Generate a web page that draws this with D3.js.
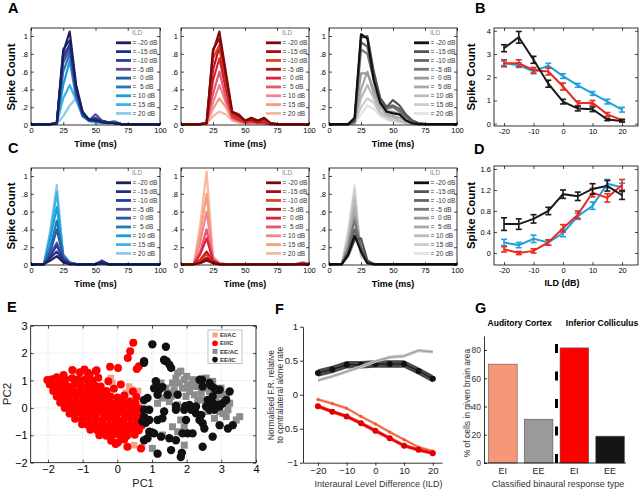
<!DOCTYPE html>
<html><head><meta charset="utf-8">
<script src="https://cdn.jsdelivr.net/npm/d3@7"></script>
<style>body{margin:0;background:#fff;}svg{display:block;}</style>
</head><body><svg id="c" width="640" height="491"></svg>
<script>
// ---------------- DATA ----------------
const timeBins = [0,5,10,15,20,25,30,35,40,45,50,55,60,65,70,75,80,85,90,95,100];
const ildLabels = ["= -20 dB","= -15 dB","= -10 dB","= -5 dB","=  0 dB","=  5 dB","= 10 dB","= 15 dB","= 20 dB"];
const blues = ["#1b1f5c","#1f2f86","#233f9e","#5b4a9c","#1f5f9e","#2278b8","#1a9fd8","#3db4e4","#8ccbea"];
const reds  = ["#7d0a0a","#a30d0d","#e0401f","#b5121b","#e0203a","#e05a6a","#f2839b","#f3a07a","#f7b79c"];
const grays = ["#111111","#555555","#666666","#777777","#999999","#aaaaaa","#bbbbbb","#cccccc","#e3e3e3"];

const psthA1 = [
 [.01,.01,.01,.01,.02,.82,1.05,.45,.15,.06,.05,.03,.02,.02,.01,.01,.01,.01,.01,.01,.01],
 [.01,.01,.01,.01,.02,.85,.95,.42,.14,.06,.06,.04,.03,.02,.01,.01,.01,.01,.01,.01,.01],
 [.01,.01,.01,.01,.02,.78,.90,.40,.12,.06,.08,.04,.03,.02,.01,.01,.01,.01,.01,.01,.01],
 [.01,.01,.01,.01,.02,.70,.85,.35,.12,.05,.12,.05,.03,.02,.01,.01,.01,.01,.01,.01,.01],
 [.01,.01,.01,.01,.02,.75,.88,.38,.12,.06,.07,.04,.03,.03,.01,.01,.01,.01,.01,.01,.01],
 [.01,.01,.01,.01,.02,.60,.80,.35,.10,.05,.05,.04,.03,.02,.01,.01,.01,.01,.01,.01,.01],
 [.01,.01,.01,.01,.02,.45,.72,.30,.10,.05,.04,.03,.03,.04,.01,.01,.01,.01,.01,.01,.01],
 [.01,.01,.01,.01,.02,.30,.45,.28,.10,.04,.03,.03,.03,.04,.01,.01,.01,.01,.01,.01,.01],
 [.01,.01,.01,.01,.01,.10,.22,.30,.15,.05,.03,.02,.02,.03,.01,.01,.01,.01,.01,.01,.01]
];
const psthA2 = [
 [.01,.01,.01,.01,.02,.82,1.05,.60,.15,.12,.05,.08,.05,.08,.02,.01,.01,.01,.01,.01,.01],
 [.01,.01,.01,.01,.02,.85,.97,.55,.14,.10,.05,.06,.04,.07,.02,.01,.01,.01,.01,.01,.01],
 [.01,.01,.01,.01,.02,.75,.90,.50,.12,.08,.04,.05,.04,.05,.02,.01,.01,.01,.01,.01,.01],
 [.01,.01,.01,.01,.02,.62,.88,.45,.12,.08,.04,.05,.03,.04,.02,.01,.01,.01,.01,.01,.01],
 [.01,.01,.01,.01,.02,.50,.75,.40,.10,.06,.03,.04,.03,.03,.01,.01,.01,.01,.01,.01,.01],
 [.01,.01,.01,.01,.02,.35,.60,.30,.08,.05,.03,.03,.03,.02,.01,.01,.01,.01,.01,.01,.01],
 [.01,.01,.01,.01,.02,.25,.45,.25,.07,.04,.03,.03,.02,.02,.01,.01,.01,.01,.01,.01,.01],
 [.01,.01,.01,.01,.02,.18,.30,.20,.06,.03,.02,.02,.02,.02,.01,.01,.01,.01,.01,.01,.01],
 [.01,.01,.01,.01,.01,.10,.15,.12,.05,.03,.02,.02,.02,.02,.01,.01,.01,.01,.01,.01,.01]
];
const psthA3 = [
 [.01,.01,.01,.01,.08,1.02,.97,.50,.25,.15,.13,.12,.05,.02,.01,.01,.01,.01,.01,.01,.01],
 [.01,.01,.01,.01,.05,.98,1.00,.60,.30,.20,.28,.22,.12,.05,.02,.01,.01,.01,.01,.01,.01],
 [.01,.01,.01,.01,.04,.93,.88,.55,.30,.20,.22,.18,.10,.05,.02,.01,.01,.01,.01,.01,.01],
 [.01,.01,.01,.01,.04,.85,.80,.50,.30,.18,.20,.15,.08,.04,.02,.01,.01,.01,.01,.01,.01],
 [.01,.01,.01,.01,.03,.58,.58,.40,.25,.15,.15,.12,.06,.03,.01,.01,.01,.01,.01,.01,.01],
 [.01,.01,.01,.01,.03,.40,.60,.35,.20,.12,.10,.08,.05,.02,.01,.01,.01,.01,.01,.01,.01],
 [.01,.01,.01,.01,.02,.30,.45,.30,.15,.10,.08,.05,.03,.02,.01,.01,.01,.01,.01,.01,.01],
 [.01,.01,.01,.01,.02,.20,.30,.25,.12,.08,.05,.04,.02,.01,.01,.01,.01,.01,.01,.01,.01],
 [.01,.01,.01,.01,.02,.12,.22,.18,.10,.06,.04,.03,.02,.01,.01,.01,.01,.01,.01,.01,.01]
];
const psthC1 = [
 [.01,.01,.01,.05,.10,.03,.01,.01,.01,.01,.01,.02,.01,.01,.01,.01,.01,.01,.01,.01,.01],
 [.01,.01,.01,.08,.15,.05,.01,.01,.01,.01,.01,.03,.01,.01,.01,.01,.01,.01,.01,.01,.01],
 [.01,.01,.01,.10,.22,.06,.02,.01,.01,.01,.01,.04,.01,.01,.01,.01,.01,.01,.01,.01,.01],
 [.01,.01,.01,.12,.25,.08,.02,.01,.01,.01,.01,.03,.01,.01,.01,.01,.01,.01,.01,.01,.01],
 [.01,.01,.01,.15,.40,.08,.02,.01,.01,.01,.01,.05,.01,.01,.01,.01,.01,.01,.01,.01,.01],
 [.01,.01,.01,.20,.50,.10,.02,.01,.01,.01,.01,.03,.01,.01,.01,.01,.01,.01,.01,.01,.01],
 [.01,.01,.01,.30,.65,.12,.03,.01,.01,.01,.01,.02,.01,.01,.01,.01,.01,.01,.01,.01,.01],
 [.01,.01,.01,.35,.82,.10,.03,.01,.01,.01,.01,.02,.01,.01,.01,.01,.01,.01,.01,.01,.01],
 [.01,.01,.01,.40,.90,.08,.02,.01,.01,.01,.01,.01,.01,.01,.01,.01,.01,.01,.01,.01,.01]
];
const psthC2 = [
 [.01,.01,.01,.02,.05,.02,.01,.01,.01,.01,.01,.01,.01,.01,.01,.01,.01,.01,.01,.01,.01],
 [.01,.01,.01,.03,.08,.03,.01,.01,.01,.01,.01,.01,.01,.01,.01,.01,.01,.01,.01,.01,.01],
 [.01,.01,.01,.05,.12,.03,.01,.01,.01,.01,.01,.01,.01,.01,.01,.01,.01,.01,.01,.01,.01],
 [.01,.01,.01,.06,.15,.04,.01,.01,.01,.01,.01,.01,.01,.01,.01,.01,.01,.01,.01,.02,.01],
 [.01,.01,.01,.12,.30,.05,.01,.01,.01,.01,.01,.01,.01,.01,.01,.01,.01,.01,.01,.01,.01],
 [.01,.01,.01,.15,.40,.06,.01,.01,.01,.01,.01,.01,.01,.01,.01,.01,.01,.01,.01,.02,.01],
 [.01,.01,.01,.25,.60,.08,.02,.01,.01,.01,.01,.01,.01,.01,.01,.01,.01,.01,.01,.03,.01],
 [.01,.01,.01,.35,.80,.08,.02,.01,.01,.01,.01,.01,.01,.01,.01,.01,.01,.01,.01,.03,.01],
 [.01,.01,.01,.45,1.05,.10,.02,.01,.01,.01,.01,.01,.01,.01,.01,.01,.01,.01,.01,.02,.01]
];
const psthC3 = [
 [.01,.01,.01,.12,.33,.15,.02,.01,.01,.01,.01,.01,.01,.01,.01,.01,.01,.01,.01,.01,.01],
 [.01,.01,.01,.10,.28,.30,.05,.01,.01,.01,.01,.01,.01,.01,.01,.01,.01,.01,.01,.01,.01],
 [.01,.01,.01,.15,.40,.20,.04,.01,.01,.01,.01,.01,.01,.01,.01,.01,.01,.01,.01,.01,.01],
 [.01,.01,.01,.18,.50,.20,.04,.01,.01,.01,.01,.01,.01,.01,.01,.01,.01,.01,.01,.01,.01],
 [.01,.01,.01,.20,.55,.15,.03,.01,.01,.01,.01,.01,.01,.01,.01,.01,.01,.01,.01,.01,.01],
 [.01,.01,.01,.25,.65,.15,.03,.01,.01,.01,.01,.01,.01,.01,.01,.01,.01,.01,.01,.01,.01],
 [.01,.01,.01,.30,.75,.12,.03,.01,.01,.01,.01,.01,.01,.01,.01,.01,.01,.01,.01,.01,.01],
 [.01,.01,.01,.35,.85,.10,.02,.01,.01,.01,.01,.01,.01,.01,.01,.01,.01,.01,.01,.01,.01],
 [.01,.01,.01,.40,.90,.10,.02,.01,.01,.01,.01,.01,.01,.01,.01,.01,.01,.01,.01,.01,.01]
];

const ildX = [-20,-15,-10,-5,0,5,10,15,20];
const bBlack = [3.25,3.72,2.75,1.72,0.95,0.65,0.62,0.18,0.12];
const bBlackErr = [0.15,0.25,0.15,0.15,0.1,0.1,0.1,0.05,0.05];
const bRed = [2.6,2.6,2.3,2.25,1.6,0.88,0.9,0.4,0.15];
const bRedErr = [0.15,0.15,0.12,0.15,0.15,0.1,0.1,0.08,0.05];
const bBlue = [2.6,2.52,2.25,2.5,2.05,1.65,1.3,0.95,0.6];
const bBlueErr = [0.1,0.1,0.1,0.1,0.1,0.08,0.08,0.1,0.1];
const dBlack = [0.55,0.55,0.65,0.8,1.12,1.08,1.22,1.28,1.1];
const dBlackErr = [0.12,0.1,0.08,0.07,0.08,0.08,0.1,0.1,0.08];
const dBlue = [0.2,0.15,0.27,0.2,0.38,0.7,0.9,1.32,1.25];
const dBlueErr = [0.06,0.05,0.07,0.05,0.07,0.06,0.07,0.08,0.08];
const dRed = [0.07,0.0,0.04,0.2,0.47,0.73,1.15,1.05,1.3];
const dRedErr = [0.05,0.03,0.04,0.05,0.07,0.07,0.08,0.08,0.1];

const eiIC = [
[-1.3,1.38],[-1.08,1.3],[-0.85,1.28],[-0.62,1.35],[-1.55,1.2],[-1.75,1.12],[-0.95,1.4],
[-2.02,1.02],[-1.88,1.05],[-1.7,1.02],[-1.5,1.05],[-1.3,1.08],[-1.12,1.05],[-0.92,1.05],[-0.72,1.0],[-0.55,1.1],
[-1.95,0.85],[-1.8,0.8],[-1.62,0.82],[-1.45,0.8],[-1.25,0.84],[-1.05,0.82],[-0.85,0.8],[-0.65,0.82],[-0.48,0.78],
[-1.85,0.62],[-1.68,0.6],[-1.5,0.58],[-1.3,0.62],[-1.1,0.6],[-0.9,0.58],[-0.7,0.62],[-0.5,0.6],[-0.32,0.62],
[-1.75,0.42],[-1.58,0.38],[-1.4,0.4],[-1.2,0.42],[-1.0,0.38],[-0.8,0.4],[-0.6,0.42],[-0.4,0.38],[-0.2,0.42],[0.0,0.38],[0.2,0.45],
[-1.65,0.2],[-1.45,0.22],[-1.25,0.18],[-1.05,0.2],[-0.85,0.22],[-0.65,0.18],[-0.45,0.2],[-0.25,0.22],[-0.05,0.18],[0.15,0.2],[0.35,0.22],[0.52,0.15],
[-1.52,0.0],[-1.32,0.02],[-1.12,-0.02],[-0.92,0.0],[-0.72,0.02],[-0.52,-0.02],[-0.32,0.0],[-0.12,0.02],[0.08,-0.02],[0.28,0.0],[0.48,0.02],[0.65,-0.03],
[-1.38,-0.2],[-1.18,-0.18],[-0.98,-0.22],[-0.78,-0.2],[-0.58,-0.18],[-0.38,-0.22],[-0.18,-0.2],[0.02,-0.18],[0.22,-0.22],[0.42,-0.2],[0.62,-0.18],
[-1.22,-0.4],[-1.02,-0.42],[-0.82,-0.38],[-0.62,-0.4],[-0.42,-0.42],[-0.22,-0.38],[-0.02,-0.4],[0.18,-0.42],[0.38,-0.38],[0.58,-0.4],[0.72,-0.35],
[-1.02,-0.6],[-0.85,-0.62],[-0.65,-0.58],[-0.45,-0.6],[-0.25,-0.62],[-0.05,-0.58],[0.15,-0.6],[0.35,-0.62],[0.55,-0.6],[0.7,-0.65],
[-0.78,-0.8],[-0.58,-0.82],[-0.38,-0.78],[-0.18,-0.8],[0.02,-0.82],[0.22,-0.78],[0.42,-0.8],[0.62,-0.82],
[-0.52,-1.0],[-0.32,-1.02],[-0.12,-0.98],[0.08,-1.0],[0.28,-1.02],[0.5,-0.98],
[-0.18,-1.2],[0.02,-1.25],[0.2,-1.15],[-0.05,-1.32],
[0.46,2.38],[0.37,2.07],[0.3,1.82],[-0.21,1.5],[0.02,1.46],[0.56,1.42],[0.62,1.52],[-0.6,1.37],[-0.26,0.97],[0.29,-1.42],[0.68,-1.48],[0.1,0.85],[-0.1,0.7],[0.45,0.6],[0.55,0.4],[-0.8,1.2]
];
const eiAC = [
[-0.19,1.09],[-0.14,0.91],[0.34,0.78],[0.43,0.66],[0.19,0.36],[0.39,0.29],[0.63,0.17],[0.63,-0.26],[0.43,-0.44],[0.77,-0.44],[0.72,-1.42],[0.48,-1.36],[0.05,-0.81],[-0.24,-0.99],[-0.53,-0.81],[-1.26,1.34],[-1.01,0.66],[-0.72,0.42],[-0.43,-0.01],[-1.5,0.78],[-0.1,0.05],[0.24,-0.07],[-0.92,1.03],[-1.11,-0.26],[0.1,-0.44],[-0.29,0.6],[-0.58,0.17],[-1.59,0.17],[0.6,0.62],[0.25,0.55],[0.78,0.0]
];
const eeAC = [
[1.83,1.34],[1.69,1.09],[1.59,0.91],[1.79,0.91],[1.93,1.03],[2.03,0.85],[2.17,1.03],[2.27,0.78],[1.88,0.72],[1.64,0.66],[2.08,0.6],[2.22,0.48],[2.42,0.54],[2.56,0.72],[2.66,0.6],[2.85,0.54],[2.99,0.48],[3.09,0.29],[2.85,0.29],[2.46,0.29],[2.99,0.72],[3.14,0.48],[3.24,0.17],[3.19,-0.07],[3.53,-0.32],[3.43,-0.44],[3.14,-0.32],[3.04,-0.2],[2.8,-0.38],[1.98,0.42],[1.55,0.42],[1.4,0.72],[1.3,0.36],[1.5,0.23],[1.74,0.11],[1.83,-0.44],[1.59,-0.69],[1.93,-0.69],[1.74,-0.87],[1.93,-1.36],[1.01,-1.48],[1.3,-0.99],[2.32,0.29],[2.7,0.05],[2.95,-0.13],[2.61,-0.13],[2.13,0.78],[2.32,0.97],[2.56,1.09],[2.75,0.97],[1.74,1.28],[1.26,0.91],[1.16,0.17],[2.0,1.15],[2.4,0.8],[1.45,0.55],[2.9,0.1]
];
const eeIC = [
[1.01,2.32],[1.40,2.23],[0.77,1.70],[1.35,1.76],[1.42,1.70],[1.55,1.46],[1.11,0.97],[1.06,0.72],[1.21,0.66],[1.16,0.48],[1.45,0.48],[0.87,0.36],[1.74,0.48],[2.37,1.03],[2.66,0.91],[2.80,0.72],[2.95,0.66],[3.24,0.60],[2.46,0.78],[2.08,0.11],[2.13,-0.07],[1.69,-0.07],[1.93,-0.07],[2.27,-0.2],[2.42,-0.26],[2.75,0.17],[2.90,0.11],[3.04,0.17],[2.80,-0.07],[1.35,-0.13],[0.92,-0.07],[0.92,-0.44],[1.16,-0.44],[1.30,-0.38],[1.98,-0.44],[2.46,-0.56],[2.51,-0.75],[2.95,-0.63],[3.19,-0.75],[3.33,-0.63],[2.03,-0.93],[2.17,-0.93],[2.75,-1.05],[1.88,-0.93],[1.06,-0.93],[1.26,-1.05],[0.87,-1.11],[1.50,-1.11],[1.69,-1.18],[2.46,-1.42],[1.55,-1.54],[1.16,-1.67],[1.83,-1.79],[0.72,-0.5],[0.77,-1.18],[2.95,0.05],[2.61,0.29],[3.14,0.29],[2.56,0.05],[2.75,0.42],[2.27,0.05],[2.66,-0.07],[2.37,-0.44],[0.82,-0.54],[0.92,-0.87],[1.0,-0.9],[0.77,-0.32],[1.14,0.81],[1.30,0.76],[1.69,0.07],[1.96,0.07],[2.44,1.03],[2.70,0.81],[2.85,0.66],[1.86,-1.64],[0.77,1.65],[0.77,0.29],[0.77,-0.07],[1.36,1.73],[1.5,1.58]
];

const fEEac = [0.21,0.27,0.34,0.41,0.49,0.55,0.57,0.65,0.63];
const fEEic = [0.32,0.37,0.44,0.44,0.45,0.45,0.45,0.35,0.235];
const fEIac = [-0.07,-0.13,-0.2,-0.32,-0.43,-0.55,-0.66,-0.77,-0.83];
const fEIic = [-0.17,-0.25,-0.32,-0.42,-0.53,-0.64,-0.75,-0.81,-0.86];

const gCats = ["EI (AC)","EE (AC)","EI (IC)","EE (IC)"];
const gLabels = ["EI","EE","EI","EE"];
const gValues = [70,31,81.5,19];
const gColors = ["#f7977a","#9a9a9a","#ff0000","#141414"];

// ---------------- DRAWING ----------------
const svg = d3.select("#c");
const FF = "Arial, 'Liberation Sans', Helvetica, sans-serif";

function txt(x,y,s,size,o={}){
  const t = svg.append("text").attr("x",x).attr("y",y).text(s)
    .attr("font-family",FF).attr("font-size",size).attr("fill",o.fill||"#000")
    .attr("font-weight",o.bold?"bold":"normal").attr("text-anchor",o.anchor||"start");
  if(o.rot) t.attr("transform",`rotate(-90,${x},${y})`);
  if(o.pre) t.style("white-space","pre");
  return t;
}
function styleAx(g,size,col){
  g.select(".domain").remove();
  g.selectAll("text").attr("font-family",FF).attr("font-size",size).attr("fill",col||"#000");
  g.selectAll("line").attr("stroke","#000").attr("stroke-width",0.7);
}
function boxAxes(xs,ys,xt,yt,xfmt,yfmt,size,pad){
  const [x0,x1]=xs.range(), [yb,ytop]=ys.range();
  const g=svg.append("g");
  const p = pad||3;
  styleAx(g.append("g").attr("transform",`translate(${x0},0)`).call(d3.axisLeft(ys).tickValues(yt).tickFormat(yfmt).tickSize(-3).tickPadding(p)),size);
  styleAx(g.append("g").attr("transform",`translate(${x1},0)`).call(d3.axisRight(ys).tickValues(yt).tickFormat("").tickSize(-3)),size);
  styleAx(g.append("g").attr("transform",`translate(0,${yb})`).call(d3.axisBottom(xs).tickValues(xt).tickFormat(xfmt).tickSize(-3).tickPadding(p)),size);
  styleAx(g.append("g").attr("transform",`translate(0,${ytop})`).call(d3.axisTop(xs).tickValues(xt).tickFormat("").tickSize(-3)),size);
  g.append("rect").attr("x",x0).attr("y",ytop).attr("width",x1-x0).attr("height",yb-ytop)
    .attr("fill","none").attr("stroke","#000").attr("stroke-width",0.8);
}

function psth(x0,x1,y0,y1,data,colors){
  const xs=d3.scaleLinear().domain([0,100]).range([x0,x1]);
  const ys=d3.scaleLinear().domain([0,1.09]).range([y1,y0]);
  const line=d3.line().x((d,i)=>xs(timeBins[i])).y(d=>ys(d));
  for(let i=data.length-1;i>=0;i--){
    svg.append("path").attr("d",line(data[i])).attr("fill","none").attr("stroke",colors[i])
      .attr("stroke-width",2.2).attr("stroke-linejoin","round");
  }
  boxAxes(xs,ys,[0,25,50,75,100],[0,.2,.4,.6,.8,1],d=>String(d),
    d=>d===0?"0":d===1?"1":d3.format(".1f")(d).replace(/^0/,""),7.5);
  const lx=x0+85, ly=y0+14.8;
  txt(lx+16,y0+6.8,"ILD",6.5,{fill:"#888"});
  ildLabels.forEach((s,i)=>{
    const y=ly+i*8.83;
    svg.append("line").attr("x1",lx).attr("x2",lx+15).attr("y1",y).attr("y2",y)
      .attr("stroke",colors[i]).attr("stroke-width",2.8);
    txt(lx+16.5,y+2.3,s,6.5,{pre:true,fill:"#333"});
  });
  txt((x0+x1)/2,y1+21.5,"Time (ms)",9,{bold:true,anchor:"middle"});
}

psth(31,160,28,125,psthA1,blues);
psth(181,309,28,125,psthA2,reds);
psth(329,457,28,125,psthA3,grays);
psth(31,160,168,265,psthC1,blues);
psth(181,309,168,265,psthC2,reds);
psth(329,457,168,265,psthC3,grays);

txt(15,77,"Spike Count",11.5,{bold:true,anchor:"middle",rot:true});
txt(15,216,"Spike Count",11.5,{bold:true,anchor:"middle",rot:true});

function ildPanel(y0,y1,ydom,yticks,yfmt,series){
  const xs=d3.scaleLinear().domain([-23.4,25.4]).range([494,638]);
  const ys=d3.scaleLinear().domain(ydom).range([y1,y0]);
  const line=d3.line().x((d,i)=>xs(ildX[i])).y(d=>ys(d));
  series.forEach(s=>{
    svg.append("path").attr("d",line(s.v)).attr("fill","none").attr("stroke",s.c).attr("stroke-width",2);
    s.v.forEach((v,i)=>{
      const x=xs(ildX[i]), a=ys(v-s.e[i]), b=ys(v+s.e[i]);
      svg.append("line").attr("x1",x).attr("x2",x).attr("y1",a).attr("y2",b).attr("stroke",s.c).attr("stroke-width",1.6);
      [a,b].forEach(yy=>svg.append("line").attr("x1",x-3).attr("x2",x+3).attr("y1",yy).attr("y2",yy).attr("stroke",s.c).attr("stroke-width",1.6));
    });
  });
  boxAxes(xs,ys,[-20,-10,0,10,20],yticks,d=>String(d),yfmt,7.5);
  txt(475,(y0+y1)/2,"Spike Count",11.5,{bold:true,anchor:"middle",rot:true});
}
ildPanel(28,126,[-0.1,4.12],[0,1,2,3,4],d=>String(d),[
  {v:bBlue,e:bBlueErr,c:"#1ea0dc"},{v:bRed,e:bRedErr,c:"#e82a22"},{v:bBlack,e:bBlackErr,c:"#1a1a1a"}]);
ildPanel(166,265,[-0.229,1.657],[0,0.4,0.8,1.2,1.6],d=>d===0?"0":d.toFixed(1),[
  {v:dBlue,e:dBlueErr,c:"#1ea0dc"},{v:dRed,e:dRedErr,c:"#e82a22"},{v:dBlack,e:dBlackErr,c:"#1a1a1a"}]);
txt(562,286,"ILD (dB)",9,{bold:true,anchor:"middle"});

// ---- Panel E ----
(function(){
  const xs=d3.scaleLinear().domain([-2.5,4]).range([30.7,256]);
  const ys=d3.scaleLinear().domain([-2,3]).range([462.7,325.7]);
  const g=svg.append("g");
  [-2,-1,0,1,2,3].forEach(v=>g.append("line").attr("x1",xs(v)).attr("x2",xs(v)).attr("y1",ys(-2)).attr("y2",ys(3))
      .attr("stroke","#b5b5b5").attr("stroke-width",0.6).attr("stroke-dasharray","1,2"));
  [-1,0,1,2].forEach(v=>g.append("line").attr("y1",ys(v)).attr("y2",ys(v)).attr("x1",xs(-2.5)).attr("x2",xs(4))
      .attr("stroke","#b5b5b5").attr("stroke-width",0.6).attr("stroke-dasharray","1,2"));
  const fmt=d3.format("d");
  svg.append("g").selectAll("rect").data(eiAC).join("rect")
    .attr("x",d=>xs(d[0])-3.3).attr("y",d=>ys(d[1])-3.3).attr("width",6.6).attr("height",6.6).attr("fill","#f5a08a");
  svg.append("g").selectAll("circle").data(eiIC).join("circle")
    .attr("cx",d=>xs(d[0])).attr("cy",d=>ys(d[1])).attr("r",4).attr("fill","#ff0000");
  svg.append("g").selectAll("rect").data(eeAC).join("rect")
    .attr("x",d=>xs(d[0])-3.5).attr("y",d=>ys(d[1])-3.5).attr("width",7).attr("height",7).attr("fill","#8c8c8c");
  svg.append("g").selectAll("circle").data(eeIC).join("circle")
    .attr("cx",d=>xs(d[0])).attr("cy",d=>ys(d[1])).attr("r",4.2).attr("fill","#111");
  boxAxes(xs,ys,[-2,-1,0,1,2,3,4],[-2,-1,0,1,2,3],fmt,fmt,11,3);
  // legend
  svg.append("rect").attr("x",208).attr("y",330).attr("width",34).attr("height",33.5)
    .attr("fill","#fff").attr("stroke","#999").attr("stroke-width",0.6);
  const items=[["EI/AC","#f5a08a","sq"],["EI/IC","#ff0000","ci"],["EE/AC","#8c8c8c","sq"],["EE/IC","#111","ci"]];
  items.forEach((it,i)=>{
    const y=335+i*8.2;
    if(it[2]==="sq") svg.append("rect").attr("x",212.5).attr("y",y-2.5).attr("width",5).attr("height",5).attr("fill",it[1]);
    else svg.append("circle").attr("cx",215).attr("cy",y).attr("r",2.8).attr("fill",it[1]);
    txt(220,y+2.2,it[0],6,{bold:true,fill:"#333"});
  });
  txt(143,487,"PC1",11,{anchor:"middle",fill:"#222"});
  txt(11,394,"PC2",11.5,{anchor:"middle",rot:true,fill:"#222"});
})();

// ---- Panel F ----
(function(){
  const xs=d3.scaleLinear().domain([-25.2,23.2]).range([303,442]);
  const ys=d3.scaleLinear().domain([-1,1]).range([462.7,326.7]);
  function band(vals,w,fill,lineCol,lw,dotR,dotCol){
    const area=d3.area().x((d,i)=>xs(ildX[i])).y0(d=>ys(d-w)).y1(d=>ys(d+w));
    svg.append("path").attr("d",area(vals)).attr("fill",fill);
    const line=d3.line().x((d,i)=>xs(ildX[i])).y(d=>ys(d));
    svg.append("path").attr("d",line(vals)).attr("fill","none").attr("stroke",lineCol).attr("stroke-width",lw);
    if(dotR) vals.forEach((v,i)=>svg.append("circle").attr("cx",xs(ildX[i])).attr("cy",ys(v)).attr("r",dotR).attr("fill",dotCol));
  }
  band(fEEic,0.055,"#4a4a4a","#111",1,3,"#111");
  band(fEEac,0.025,"#c8c8c8","#9a9a9a",1.1,0,null);
  band(fEIac,0.022,"#f8a488","#f05a3a",1.3,1.6,"#f05a3a");
  band(fEIic,0.028,"#f23a3a","#e00000",1.8,3,"#e00000");
  const L=svg.append("g").attr("transform","translate(303,0)")
    .call(d3.axisLeft(ys).tickValues([-1,-0.5,0,0.5,1]).tickFormat(d=>d3.format("")(d)).tickSize(3).tickSizeOuter(0).tickPadding(2));
  L.selectAll("text").attr("font-family",FF).attr("font-size",9.5).attr("fill","#222");
  L.selectAll("line,path").attr("stroke","#000").attr("stroke-width",0.8);
  const B=svg.append("g").attr("transform","translate(0,462.7)")
    .call(d3.axisBottom(xs).tickValues([-20,-10,0,10,20]).tickFormat(d=>d3.format("")(d)).tickSize(3).tickSizeOuter(0).tickPadding(2));
  B.selectAll("text").attr("font-family",FF).attr("font-size",9.5).attr("fill","#222");
  B.selectAll("line,path").attr("stroke","#000").attr("stroke-width",0.8);
  txt(273.5,395,"Normalised F.R. relative",8.5,{anchor:"middle",rot:true,fill:"#333"});
  txt(282.5,395,"to contralateral alone rate",8.5,{anchor:"middle",rot:true,fill:"#333"});
  txt(378.5,487,"Interaural Level Difference (ILD)",9,{anchor:"middle",fill:"#333"});
})();

// ---- Panel G ----
(function(){
  const xs=d3.scaleBand().domain(gCats).range([485,628]).paddingInner(0.2).paddingOuter(0.1);
  const ys=d3.scaleLinear().domain([0,90]).range([463,335.9]);
  svg.append("g").selectAll("rect").data(gCats).join("rect")
    .attr("x",d=>xs(d)).attr("width",xs.bandwidth())
    .attr("y",(d,i)=>ys(gValues[i])).attr("height",(d,i)=>ys(0)-ys(gValues[i]))
    .attr("fill",(d,i)=>gColors[i]).attr("stroke","#555").attr("stroke-width",0.6);
  const L=svg.append("g").attr("transform","translate(484,0)")
    .call(d3.axisLeft(ys).tickValues([0,20,40,60,80]).tickSize(-3).tickSizeOuter(0).tickPadding(3));
  L.selectAll("text").attr("font-family",FF).attr("font-size",8.5).attr("fill","#333");
  L.selectAll("line,path").attr("stroke","#000").attr("stroke-width",0.8);
  svg.append("line").attr("x1",484).attr("x2",626).attr("y1",463).attr("y2",463).attr("stroke","#000").attr("stroke-width",0.8);
  gCats.forEach((c,i)=>txt(xs(c)+xs.bandwidth()/2,474,gLabels[i],9,{anchor:"middle",fill:"#222"}));
  const mid=(xs(gCats[1])+xs.bandwidth()+xs(gCats[2]))/2;
  svg.append("line").attr("x1",mid).attr("x2",mid).attr("y1",463).attr("y2",327)
    .attr("stroke","#000").attr("stroke-width",3).attr("stroke-dasharray","9,18.5");
  txt(519.7,326,"Auditory Cortex",8.5,{bold:true,anchor:"middle"});
  txt(602,326,"Inferior Colliculus",8.5,{bold:true,anchor:"middle"});
  txt(470,403,"% of cells in given brain area",8.5,{anchor:"middle",rot:true,fill:"#333"});
  txt(558,487,"Classified binaural response type",9,{anchor:"middle",fill:"#333"});
})();

// panel letters
[["A",8,13],["B",475,13],["C",8,153],["D",474,154],["E",7,312],["F",275,314],["G",475,313]]
  .forEach(p=>txt(p[1],p[2],p[0],14.5,{bold:true}));
</script></body></html>
